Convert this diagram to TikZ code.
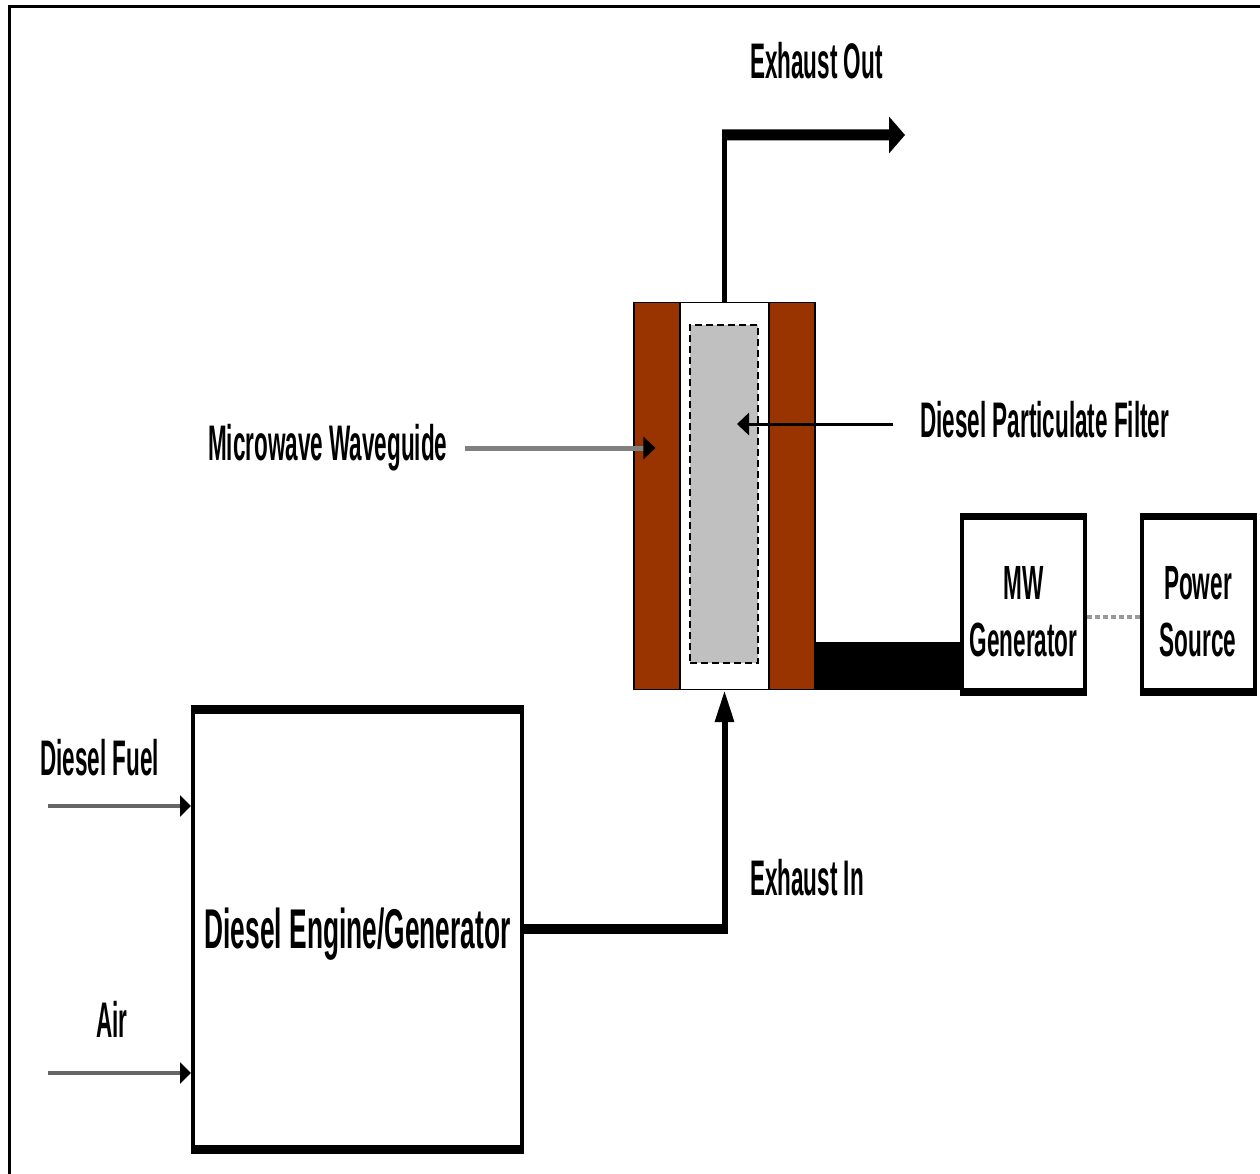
\documentclass[tikz,border=0pt]{standalone}
\usepackage{fontspec}
\setmainfont{Liberation Sans}
\newfontfamily\labfont[FakeStretch=0.45]{Liberation Sans}
\newfontfamily\boxfont[FakeStretch=0.47]{Liberation Sans}
\newfontfamily\engfont[FakeStretch=0.47]{Liberation Sans}
\usetikzlibrary{arrows.meta,calc}
\definecolor{wgbrown}{HTML}{993300}
\definecolor{dpfgray}{HTML}{C0C0C0}
\definecolor{lgray}{HTML}{808080}
\begin{document}
\begin{tikzpicture}[x=1pt,y=-1pt,
  lab/.style={font={\labfont\bfseries\fontsize{50}{60}\selectfont}, inner sep=0pt, anchor=base west},
  boxtxt/.style={font={\boxfont\bfseries\fontsize{48}{57}\selectfont}, inner sep=0pt, align=center, anchor=center},
  engtxt/.style={font={\engfont\bfseries\fontsize{56}{66}\selectfont}, inner sep=0pt, anchor=base},
  blk/.style={draw=black, line width=4pt, fill=white, inner sep=0pt},
  thin arrow/.style={line width=4pt, draw=lgray!80!black, -{Triangle[color=black,length=11pt,width=21pt]}}
]
\useasboundingbox (0,0) rectangle (1260,1173);
% outer frame
\draw[line width=3pt] (9,1190) -- (9,6) -- (1280,6);

% waveguide / filter assembly
\node[draw=black, line width=1.2pt, fill=wgbrown, minimum width=181pt, minimum height=387pt, inner sep=0pt] (wg) at (724.5,496) {};
\node[draw=black, line width=1.2pt, fill=white, minimum width=89pt, minimum height=387pt, inner sep=0pt] (ch) at (724.5,496) {};
\node[draw=black, line width=2.6pt, dash pattern=on 7pt off 4pt, fill=dpfgray, minimum width=68pt, minimum height=338pt, inner sep=0pt] (dpf) at (724,494) {};

% engine
\node[blk, minimum width=329pt, minimum height=436pt] (eng) at (357.5,929) {};
\draw[line width=9pt] (eng.north west) -- (eng.north east);
\draw[line width=9pt] (eng.south west) -- (eng.south east);
\node[engtxt] (engt) at ($(eng.center)+(0,19)$) {Diesel Engine/Generator};

% MW generator and power source
\node[blk, minimum width=123pt, minimum height=172pt] (mw) at (1023.5,604) {};
\draw[line width=7pt] (mw.north west) -- (mw.north east);
\draw[line width=7pt] (mw.south west) -- (mw.south east);
\node[boxtxt] (mwt) at ($(mw.center)+(0,7.5)$) {MW\\Generator};

\node[blk, minimum width=113pt, minimum height=172pt] (ps) at (1198,604) {};
\draw[line width=7pt] (ps.north west) -- (ps.north east);
\draw[line width=7pt] (ps.south west) -- (ps.south east);
\node[boxtxt] (pst) at ($(ps.center)+(0,7.5)$) {Power\\Source};

% waveguide bar to MW generator
\fill[black] (wg.south east) rectangle ($(mw.south west)+(0,-50)$);
% dotted link
\draw[line width=4pt, draw=lgray!80, dash pattern=on 5pt off 3pt] ($(mw.east)+(0,13)$) -- ($(ps.west)+(0,13)$);

% exhaust in
\coordinate (c1) at (eng.east -| ch.south);
\draw[line width=10pt] (eng.east) -- ($(c1)+(3,0)$);
\draw[line width=6pt, -{Triangle[length=32pt,width=18pt]}] ($(c1)+(0,5)$) -- (ch.south);

% exhaust out
\coordinate (c2) at ($(ch.north)+(0,-167)$);
\coordinate (eo) at (905,135);
\draw[line width=5pt] (ch.north) -- ($(c2)+(0,-5)$);
\draw[line width=11pt, -{Triangle[length=16pt,width=36pt]}] ($(c2)+(-2.5,0)$) -- (eo);

% inputs
\coordinate (f0) at (48,806);
\draw[thin arrow] (f0) -- (f0 -| eng.west);
\coordinate (a0) at (48,1073);
\draw[thin arrow] (a0) -- (a0 -| eng.west);

% label arrows
\coordinate (w0) at (465,448);
\coordinate (wtip) at ($(wg.west |- w0)+(22,0)$);
\draw[line width=5pt, draw=lgray, -{Triangle[color=black,length=12pt,width=22pt]}] (w0) -- (wtip);
\coordinate (d0) at (893,424);
\coordinate (dtip) at ($(dpf.center |- d0)+(13,0)$);
\draw[line width=3pt, -{Triangle[length=12pt,width=22pt]}] (d0) -- (dtip);

% labels
\node[lab] (l1) at (750,78) {Exhaust Out};
\node[lab] (l2) at (750,895) {Exhaust In};
\node[lab] (l3) at (208,460) {Microwave Waveguide};
\node[lab] (l4) at (920,437) {Diesel Particulate Filter};
\node[lab] (l5) at (40,775) {Diesel Fuel};
\node[lab] (l6) at (96,1037) {Air};
\end{tikzpicture}
\end{document}
